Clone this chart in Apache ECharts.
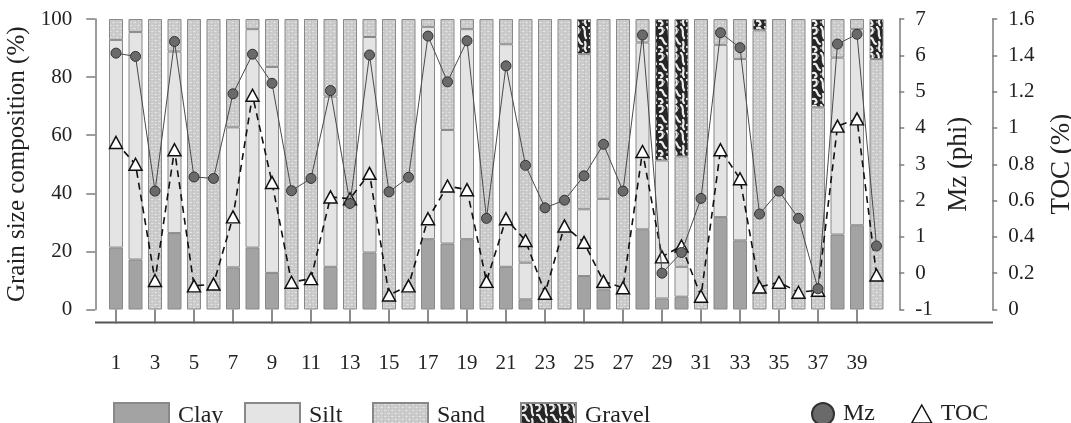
<!DOCTYPE html>
<html>
<head>
<meta charset="utf-8">
<script src="https://cdn.jsdelivr.net/npm/echarts@6/dist/echarts.min.js"></script>
<style>
    html, body { margin: 0; padding: 0; background: #fff; }
    #chart { width: 1071px; height: 423px; }
</style>
</head>
<body>
<div id="chart"></div>
<script>
// sample numbers along the x axis
var samples = ['1','2','3','4','5','6','7','8','9','10','11','12','13','14','15','16','17','18','19','20',
               '21','22','23','24','25','26','27','28','29','30','31','32','33','34','35','36','37','38','39','40'];

// grain size composition (%)
var clay   = [21.3, 17.2, 0, 26.3, 0, 0, 14.5, 21.3, 12.6, 0, 0, 14.7, 0, 19.6, 0, 0, 24.2, 22.7, 24.2, 0,
              14.7, 3.5, 0, 0, 11.5, 6.9, 0, 27.6, 3.8, 4.4, 0, 31.8, 23.8, 0, 0, 0, 0, 25.8, 29.0, 0];
var silt   = [71.5, 78.3, 0, 62.5, 0, 0, 48.2, 75.2, 70.9, 0, 0, 58.6, 0, 74.2, 0, 0, 73.1, 39.1, 72.3, 0,
              76.6, 12.6, 0, 0, 23.0, 31.2, 0, 64.3, 47.5, 10.3, 0, 59.3, 62.4, 0, 0, 0, 0, 60.9, 67.5, 0];
var sand   = [7.2, 4.5, 100, 11.2, 100, 100, 37.3, 3.5, 16.5, 100, 100, 26.7, 100, 6.2, 100, 100, 2.7, 38.2, 3.5, 100,
              8.7, 83.9, 100, 100, 53.4, 61.9, 100, 8.1, 0, 38.0, 100, 8.9, 13.8, 96.1, 100, 100, 69.6, 13.3, 3.5, 86.2];
var gravel = [0, 0, 0, 0, 0, 0, 0, 0, 0, 0, 0, 0, 0, 0, 0, 0, 0, 0, 0, 0,
              0, 0, 0, 0, 12.1, 0, 0, 0, 48.7, 47.3, 0, 0, 0, 3.9, 0, 0, 30.4, 0, 0, 13.8];

// mean grain size (phi) and TOC (%)
var mz  = [6.06, 5.97, 2.26, 6.38, 2.65, 2.61, 4.94, 6.03, 5.23, 2.27, 2.61, 5.03, 1.92, 6.01, 2.24, 2.64, 6.53, 5.27, 6.40, 1.51,
           5.71, 2.97, 1.80, 2.01, 2.68, 3.55, 2.26, 6.56, 0.00, 0.57, 2.06, 6.62, 6.21, 1.63, 2.26, 1.51, -0.43, 6.31, 6.58, 0.75];
var toc = [0.92, 0.80, 0.16, 0.88, 0.13, 0.14, 0.51, 1.18, 0.70, 0.15, 0.17, 0.62, 0.61, 0.75, 0.08, 0.13, 0.50, 0.68, 0.66, 0.155,
           0.50, 0.38, 0.09, 0.46, 0.37, 0.155, 0.12, 0.87, 0.29, 0.35, 0.073, 0.88, 0.72, 0.124, 0.15, 0.095, 0.106, 1.01, 1.05, 0.19];

var leftTicks = [0, 100, 20];
var mzTicks = [-1, 7, 1];
var tocTicks = [0, 1.6, 0.2];

var font = '"Liberation Serif", "Times New Roman", serif';
var textColor = '#222';
var axisColor = '#7d7d7d';

// fill patterns
function sandPattern() {
    var c = document.createElement('canvas');
    c.width = 7; c.height = 6;
    var g = c.getContext('2d');
    g.fillStyle = '#e8e8e8';
    g.fillRect(0, 0, 7, 6);
    g.fillStyle = '#d3d3d3';
    g.strokeStyle = '#b6b6b6';
    g.lineWidth = 0.8;
    [[1.75, 1.5], [5.25, 4.5], [-1.75, 4.5], [8.75, 1.5], [1.75, 7.5], [5.25, -1.5]].forEach(function (p) {
        g.beginPath();
        g.arc(p[0], p[1], 1.9, 0, Math.PI * 2);
        g.fill();
        g.stroke();
    });
    return c;
}
function gravelPattern() {
    var c = document.createElement('canvas');
    c.width = 14; c.height = 26;
    var g = c.getContext('2d');
    g.fillStyle = '#262626';
    g.fillRect(0, 0, 14, 26);
    g.strokeStyle = '#eeeeee';
    g.lineWidth = 2.2;
    g.lineCap = 'round';
    g.beginPath(); g.moveTo(1, 2); g.bezierCurveTo(6, 0, 6, 7, 2, 8); g.stroke();
    g.beginPath(); g.moveTo(9, 1); g.bezierCurveTo(13, 4, 9, 8, 12, 12); g.stroke();
    g.beginPath(); g.moveTo(2, 12); g.bezierCurveTo(6, 11, 4, 17, 8, 18); g.stroke();
    g.beginPath(); g.moveTo(11, 16); g.bezierCurveTo(13, 20, 9, 22, 12, 25); g.stroke();
    g.beginPath(); g.moveTo(1, 21); g.bezierCurveTo(4, 20, 6, 25, 3, 25); g.stroke();
    g.fillStyle = '#9a9a9a';
    g.beginPath(); g.arc(6, 4, 1.2, 0, Math.PI * 2); g.fill();
    g.beginPath(); g.arc(9, 22, 1.2, 0, Math.PI * 2); g.fill();
    return c;
}

function seg(v) { return v === 0 ? null : v; }

var dom = document.getElementById('chart');
var myChart = echarts.init(dom, null, { renderer: 'canvas' });

var gridLeft = 106.25, gridRight = 184.75, gridTop = 19, gridBottom = 113.5;
var xLineY = 423 - gridBottom + 13;

function barSeries(name, data, fill) {
    return {
        name: name,
        type: 'bar',
        stack: 'grain',
        barWidth: 14,
        data: data.map(seg),
        itemStyle: { color: fill, borderColor: '#888', borderWidth: 1 }
    };
}

var labelStyle = { fontFamily: font, fontSize: 21, color: textColor };
var nameStyle = { fontFamily: font, fontSize: 25, color: textColor };

function legendItem(name, left, extra) {
    var l = {
        data: [name],
        left: left,
        top: 397,
        selectedMode: false,
        icon: 'rect',
        itemWidth: 55,
        itemHeight: 25,
        textStyle: { fontFamily: font, fontSize: 24, color: textColor, padding: [0, 0, 0, 4] }
    };
    for (var k in extra) l[k] = extra[k];
    return l;
}

var option = {
    animation: false,
    backgroundColor: '#fff',
    grid: { left: gridLeft, right: gridRight, top: gridTop, bottom: gridBottom,
            containLabel: false, outerBoundsMode: 'none' },
    legend: [
        legendItem('Clay', 108),
        legendItem('Silt', 239),
        legendItem('Sand', 367),
        legendItem('Gravel', 515),
        legendItem('Mz', 806, { icon: 'circle', itemWidth: 22, itemHeight: 22 }),
        legendItem('TOC', 906, { icon: 'triangle', itemWidth: 20, itemHeight: 18,
            itemStyle: { color: '#fff', borderColor: '#111', borderWidth: 1.5 } })
    ],
    graphic: [{
        type: 'line',
        shape: { x1: 95, y1: xLineY, x2: 993, y2: xLineY },
        style: { stroke: '#555', lineWidth: 2 }
    }],
    xAxis: {
        type: 'category',
        data: samples,
        offset: 13,
        axisLine: { show: false },
        axisTick: { show: true, interval: 1, alignWithLabel: true, length: 14,
            lineStyle: { color: '#666', width: 1.5 } },
        axisLabel: Object.assign({ interval: 1, margin: 30 }, labelStyle)
    },
    yAxis: [{
        type: 'value',
        position: 'left',
        min: leftTicks[0], max: leftTicks[1], interval: leftTicks[2],
        offset: 11,
        name: 'Grain size composition (%)',
        nameLocation: 'middle',
        nameGap: 60,
        nameTextStyle: nameStyle,
        axisLine: { show: true, lineStyle: { color: axisColor, width: 1.5 } },
        axisTick: { show: true, length: 9, lineStyle: { color: axisColor, width: 1.5 } },
        splitLine: { show: false },
        axisLabel: Object.assign({ margin: 23 }, labelStyle)
    }, {
        type: 'value',
        position: 'right',
        min: mzTicks[0], max: mzTicks[1], interval: mzTicks[2],
        offset: 13,
        name: 'Mz (phi)',
        nameLocation: 'middle',
        nameGap: 46,
        nameTextStyle: { fontFamily: font, fontSize: 27, color: textColor },
        axisLine: { show: true, lineStyle: { color: axisColor, width: 1.5 } },
        axisTick: { show: true, length: 5, lineStyle: { color: axisColor, width: 1.5 } },
        splitLine: { show: false },
        axisLabel: Object.assign({ margin: 16 }, labelStyle)
    }, {
        type: 'value',
        position: 'right',
        min: tocTicks[0], max: tocTicks[1], interval: tocTicks[2],
        offset: 106,
        name: 'TOC (%)',
        nameLocation: 'middle',
        nameGap: 56,
        nameTextStyle: { fontFamily: font, fontSize: 27, color: textColor },
        axisLine: { show: true, lineStyle: { color: axisColor, width: 1.5 } },
        axisTick: { show: true, length: 5, lineStyle: { color: axisColor, width: 1.5 } },
        splitLine: { show: false },
        axisLabel: Object.assign({ margin: 16 }, labelStyle)
    }],
    series: [
        barSeries('Clay', clay, '#a3a3a3'),
        barSeries('Silt', silt, '#e4e4e4'),
        barSeries('Sand', sand, { image: sandPattern(), repeat: 'repeat' }),
        barSeries('Gravel', gravel, { image: gravelPattern(), repeat: 'repeat' }),
        {
            name: 'TOC',
            type: 'line',
            yAxisIndex: 2,
            data: toc,
            symbol: 'triangle',
            symbolSize: [13, 12],
            z: 4,
            lineStyle: { color: '#111', width: 1.6, type: [7, 5] },
            itemStyle: { color: '#fff', borderColor: '#111', borderWidth: 1.5 }
        },
        {
            name: 'Mz',
            type: 'line',
            yAxisIndex: 1,
            data: mz,
            symbol: 'circle',
            symbolSize: 10,
            z: 5,
            lineStyle: { color: '#4a4a4a', width: 1 },
            itemStyle: { color: '#6a6a6a', borderColor: '#333', borderWidth: 1 }
        }
    ]
};
myChart.setOption(option);
</script>
</body>
</html>
